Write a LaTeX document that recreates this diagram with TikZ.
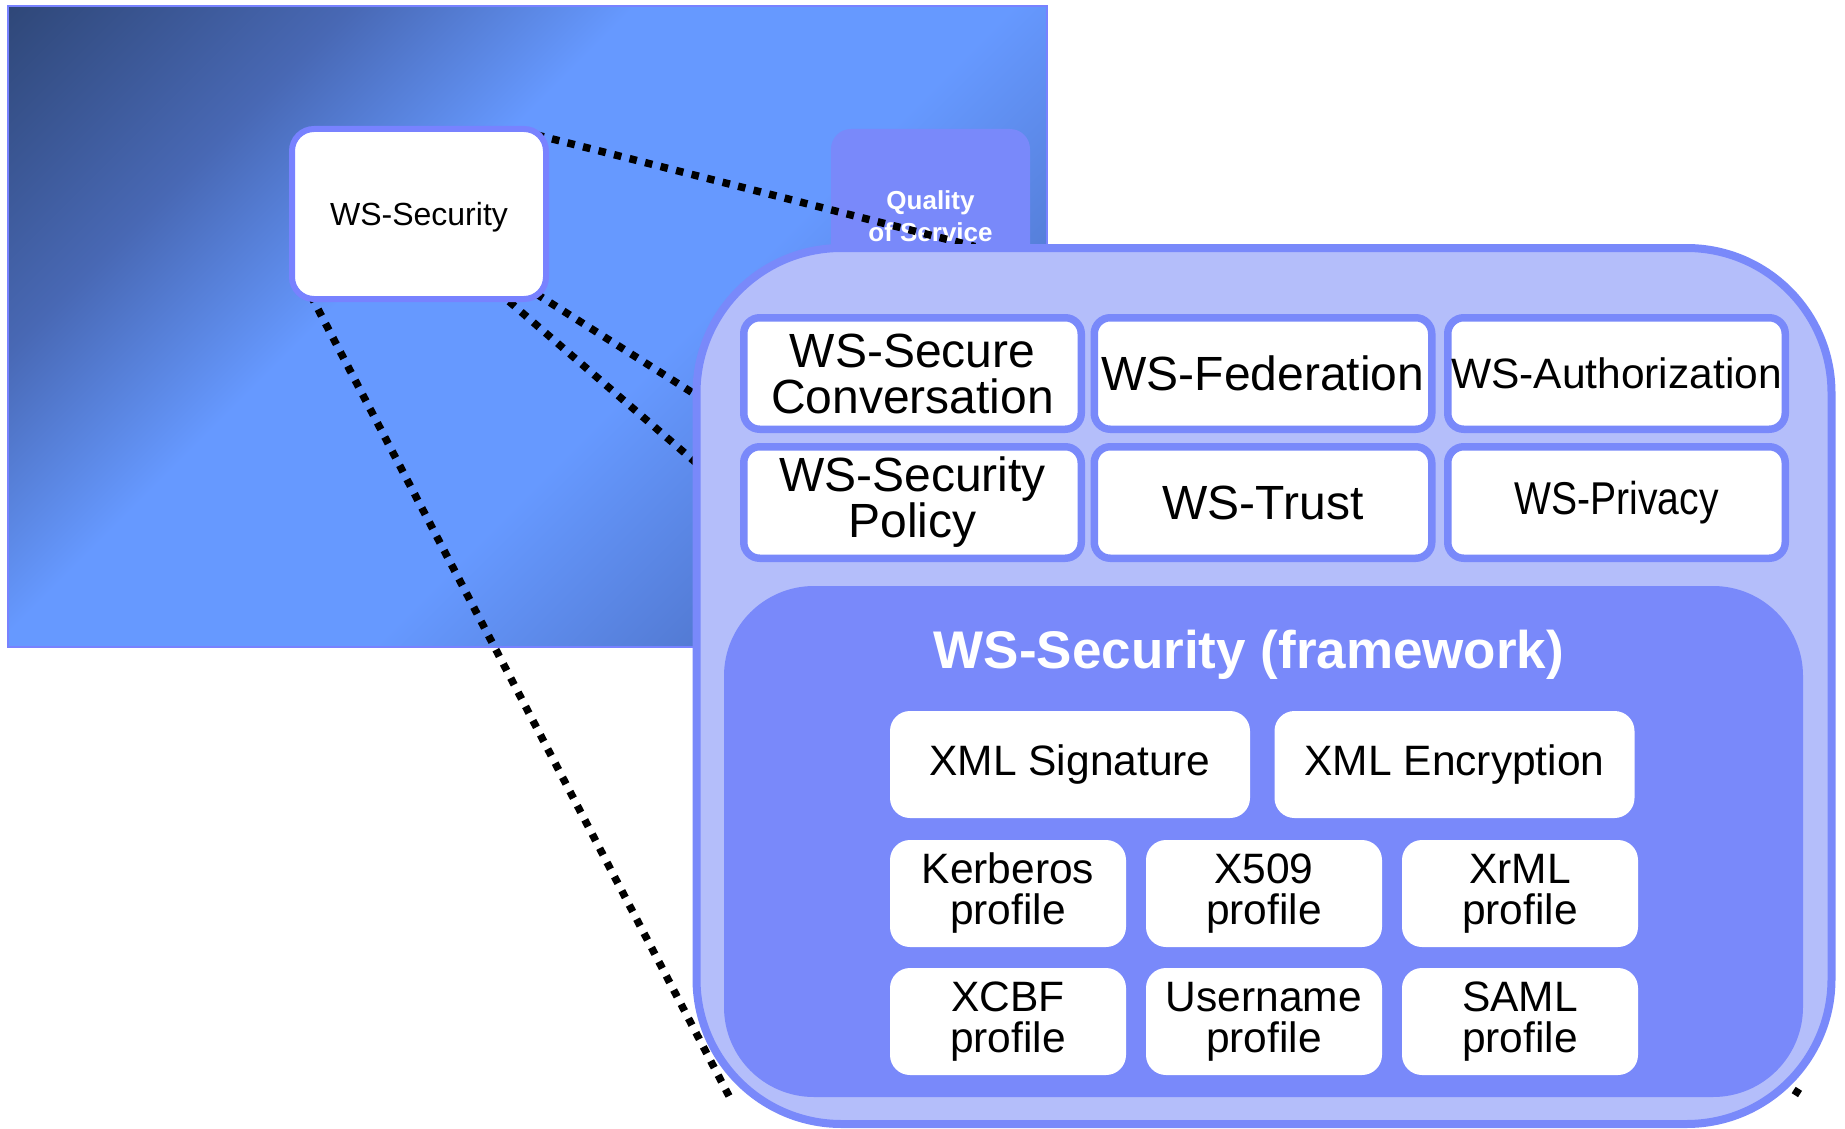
\documentclass[tikz,border=0pt]{standalone}
\usepackage{fontspec}
\setmainfont{Liberation Sans}
\usetikzlibrary{calc}

% palette
\definecolor{deep}{RGB}{46,70,118}
\definecolor{midblue}{RGB}{72,104,180}
\definecolor{sky}{RGB}{102,153,255}
\definecolor{dusk}{RGB}{64,92,168}
\definecolor{rim}{RGB}{120,130,255}
\definecolor{edge}{RGB}{121,137,250}
\definecolor{core}{RGB}{121,137,250}
\definecolor{pale}{RGB}{180,190,250}

% diagonal sky gradient for the overview panel
\pgfdeclarehorizontalshading{skyfade}{100bp}{color(0bp)=(deep); color(14bp)=(deep); color(29bp)=(midblue); color(41bp)=(sky); color(57bp)=(sky); color(84bp)=(dusk); color(100bp)=(dusk)}

\pgfdeclarelayer{back}
\pgfdeclarelayer{links}
\pgfsetlayers{back,links,main}

\tikzset{
  tile/.style={draw=edge, line width=7.5pt, fill=white, rounded corners=16pt,
    minimum width=337.5pt, minimum height=111.5pt, inner sep=0pt, align=center,
    font=\fontsize{48}{46}\selectfont},
  chip/.style={fill=white, rounded corners=20pt, minimum height=107pt,
    minimum width=236pt, inner sep=0pt, align=center,
    font=\fontsize{42.5}{41}\selectfont},
  zoomline/.style={line width=7.5pt, dash pattern=on 7.5pt off 8.5pt, black},
}

\begin{document}
\begin{tikzpicture}[x=1pt,y=-1pt]
\useasboundingbox (0,0) rectangle (1845,1129);

\begin{pgfonlayer}{back}
  \fill[white] (0,0) rectangle (1845,1129);
  % overview panel
  \node[shade, shading=skyfade, shading angle=-45, draw=rim, line width=2.5pt,
        minimum width=1039pt, minimum height=641pt, inner sep=0pt] (panel) at (527.4,326.4) {};
  % quality of service block
  \node[fill=core, rounded corners=20pt, minimum width=199pt, minimum height=174pt,
        inner sep=0pt, align=center, text=white,
        font=\bfseries\fontsize{26}{32}\selectfont] (qos) at (930.5,216) {Quality\\of Service};
\end{pgfonlayer}

% WS-Security in the overview
\node[draw=rim, line width=6pt, fill=white, rounded corners=22pt,
      minimum width=254pt, minimum height=170pt, inner sep=0pt, text depth=0pt,
      font=\fontsize{32}{36}\selectfont] (wss) at (419,214) {WS-Security};

% magnified stack
\node[draw=edge, line width=8pt, fill=pale, rounded corners=145pt,
      minimum width=1135pt, minimum height=876pt, inner sep=0pt] (stack) at (1264,686) {};

\node[tile] (sc)   at (912.5,373.5)  {WS-Secure\\Conversation};
\node[tile] (fed)  at (1263,373.5) {WS-Federation};
\node[tile, font=\fontsize{42.5}{46}\selectfont] (auth) at (1616.5,373.5) {WS-Authorization};
\node[tile] (pol)  at (912.5,502.5)  {WS-Security\\Policy};
\node[tile] (trust) at (1263,502.5) {WS-Trust};
\node[tile, font=\fontsize{46}{46}\selectfont\addfontfeature{FakeStretch=0.85}] (priv) at (1616.5,502.5) {WS-Privacy};

% WS-Security framework
\node[fill=core, rounded corners=90pt, minimum width=1079pt, minimum height=511pt,
      inner sep=0pt] (frame) at (1263.5,841.5) {};
\node[anchor=base, text=white, font=\bfseries\fontsize{53}{56}\selectfont, inner sep=0pt]
      (ftitle) at (1249,668) {WS-Security (framework)};

\node[chip, minimum width=360pt] (xsig) at (1070,764.5) {XML Signature};
\node[chip, minimum width=360pt] (xenc) at (1454.5,764.5) {XML Encryption};

\node[chip] (kerb) at (1008,893.5)  {Kerberos\\profile};
\node[chip] (x509) at (1264,893.5)  {X509\\profile};
\node[chip] (xrml) at (1520,893.5)  {XrML\\profile};
\node[chip] (xcbf) at (1008,1021.5) {XCBF\\profile};
\node[chip] (user) at (1264,1021.5) {Username\\profile};
\node[chip] (saml) at (1520,1021.5) {SAML\\profile};

% dotted zoom lines between the small box and the magnified stack
\coordinate (q0) at (521,131);   \coordinate (q1) at (975,246.5);
\coordinate (a0) at (525,286.7); \coordinate (a1) at (1800,1094);
\coordinate (b0) at (497,291);   \coordinate (b1) at (760,518);
\coordinate (c0) at (308,290);   \coordinate (c1) at (729,1096);
\begin{pgfonlayer}{links}
  \draw[zoomline] (q0) -- (q1);
  \draw[zoomline] (a1) -- (a0);
  \draw[zoomline] (b0) -- (b1);
  \draw[zoomline] (c1) -- (c0);
\end{pgfonlayer}
\end{tikzpicture}
\end{document}
